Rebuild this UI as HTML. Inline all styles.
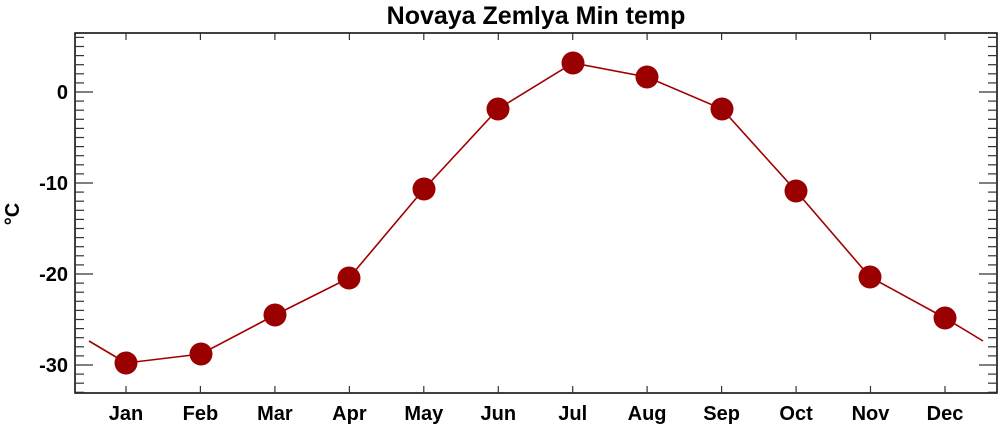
<!DOCTYPE html>
<html><head><meta charset="utf-8"><style>
html,body{margin:0;padding:0;background:#fff;}
svg{display:block;font-family:"Liberation Sans",sans-serif;font-weight:bold;}
</style></head><body>
<svg id="s" width="1000" height="428" viewBox="0 0 1000 428">
<text x="536" y="24" font-size="25" text-anchor="middle" fill="#000">Novaya Zemlya Min temp</text>
<rect x="75" y="33" width="922" height="360" fill="none" stroke="#000" stroke-width="1.5"/>
<g id="ticks" stroke="#333" stroke-width="1.2"></g>
<g id="labels" font-size="20" fill="#000"></g>
<text transform="translate(19,214) rotate(-90)" font-size="20" text-anchor="middle" fill="#000">°C</text>
<polyline fill="none" stroke="#a00000" stroke-width="1.6" points="89,341 126,363 201,354 275,315 349,278 424,189 498,109 573,63 647,77 722,109 796,191 870,277 945,318 983,341"/>
<g fill="#9b0000">
<circle cx="126" cy="363" r="11.5"/><circle cx="201" cy="354" r="11.5"/><circle cx="275" cy="315" r="11.5"/>
<circle cx="349" cy="278" r="11.5"/><circle cx="424" cy="189" r="11.5"/><circle cx="498" cy="109" r="11.5"/>
<circle cx="573" cy="63" r="11.5"/><circle cx="647" cy="77" r="11.5"/><circle cx="722" cy="109" r="11.5"/>
<circle cx="796" cy="191" r="11.5"/><circle cx="870" cy="277" r="11.5"/><circle cx="945" cy="318" r="11.5"/>
</g>
</svg>
<script>
var t=document.getElementById('ticks'),l=document.getElementById('labels'),h='',lb='';
for(var v=6;v>=-33;v--){var y=(92-9.1*v).toFixed(1);var L=(v%10==0)?18:9;
h+='<line x1="75" y1="'+y+'" x2="'+(75+L)+'" y2="'+y+'"/><line x1="997" y1="'+y+'" x2="'+(997-L)+'" y2="'+y+'"/>';
if(v%10==0)lb+='<text x="68" y="'+(+y+7)+'" text-anchor="end">'+v+'</text>';}
var m=['Jan','Feb','Mar','Apr','May','Jun','Jul','Aug','Sep','Oct','Nov','Dec'];
for(var i=0;i<12;i++){var x=(126+i*74.45).toFixed(1);
h+='<line x1="'+x+'" y1="393" x2="'+x+'" y2="386"/><line x1="'+x+'" y1="33" x2="'+x+'" y2="40"/>';
lb+='<text x="'+x+'" y="420" text-anchor="middle">'+m[i]+'</text>';}
t.innerHTML=h;l.innerHTML=lb;
</script>
</body></html>
